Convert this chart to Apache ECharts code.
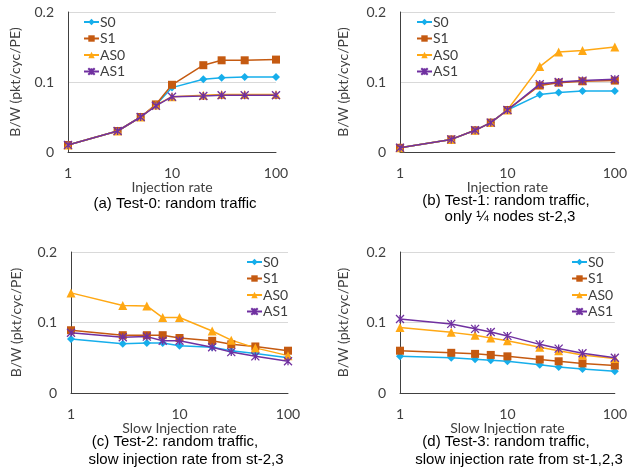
<!DOCTYPE html>
<html>
<head>
<meta charset="utf-8">
<script src="https://cdn.jsdelivr.net/npm/echarts@6/dist/echarts.min.js"></script>
<style>
  html, body { margin: 0; padding: 0; background: #fff; }
  #chart { width: 630px; height: 476px; }
</style>
</head>
<body>
<div id="chart"></div>
<script>
// injection rates (x axis, log scale)
var rates = [1, 3, 5, 7, 10, 20, 30, 50, 100];
var names = ["S0", "S1", "AS0", "AS1"];
var yTicks = [0, 0.1, 0.2];

// (a) Test-0
var a_S0  = [0.010, 0.030, 0.050, 0.067, 0.092, 0.104, 0.106, 0.107, 0.107];
var a_S1  = [0.010, 0.030, 0.050, 0.068, 0.096, 0.124, 0.131, 0.131, 0.132];
var a_AS0 = [0.010, 0.030, 0.050, 0.067, 0.079, 0.081, 0.082, 0.082, 0.082];
var a_AS1 = [0.010, 0.030, 0.050, 0.066, 0.079, 0.080, 0.081, 0.081, 0.081];
// (b) Test-1
var b_S0  = [0.006, 0.018, 0.031, 0.042, 0.060, 0.082, 0.085, 0.087, 0.087];
var b_S1  = [0.006, 0.018, 0.031, 0.042, 0.060, 0.095, 0.099, 0.101, 0.102];
var b_AS0 = [0.006, 0.018, 0.031, 0.042, 0.060, 0.122, 0.143, 0.145, 0.150];
var b_AS1 = [0.006, 0.018, 0.031, 0.042, 0.060, 0.097, 0.100, 0.102, 0.104];
// (c) Test-2
var c_S0  = [0.0765, 0.070, 0.071, 0.071, 0.067, 0.065, 0.060, 0.056, 0.050];
var c_S1  = [0.089, 0.082, 0.082, 0.082, 0.078, 0.074, 0.069, 0.066, 0.060];
var c_AS0 = [0.142, 0.124, 0.1235, 0.107, 0.107, 0.088, 0.075, 0.064, 0.053];
var c_AS1 = [0.0855, 0.079, 0.080, 0.074, 0.074, 0.065, 0.058, 0.052, 0.045];
// (d) Test-3
var d_S0  = [0.052, 0.050, 0.048, 0.0466, 0.045, 0.040, 0.037, 0.034, 0.031];
var d_S1  = [0.060, 0.057, 0.0555, 0.054, 0.052, 0.0475, 0.045, 0.042, 0.039];
var d_AS0 = [0.093, 0.086, 0.082, 0.078, 0.074, 0.065, 0.060, 0.054, 0.049];
var d_AS1 = [0.105, 0.098, 0.091, 0.0865, 0.081, 0.069, 0.063, 0.0565, 0.050];

// caption lines: [text, centre x, centre y]
var panels = [
    { data: [a_S0, a_S1, a_AS0, a_AS1], xName: "Injection rate",
      grid: { left: 68, top: 12, width: 208, height: 140 },
      legend: { left: 83, top: 15 }, yNameGap: 46,
      caption: [["(a) Test-0: random traffic", 175, 204]] },
    { data: [b_S0, b_S1, b_AS0, b_AS1], xName: "Injection rate",
      grid: { left: 400, top: 12, width: 217, height: 140 },
      legend: { left: 416, top: 15 }, yNameGap: 50,
      caption: [["(b) Test-1: random traffic,", 506, 201], ["only \u00bc nodes st-2,3", 510, 217]] },
    { data: [c_S0, c_S1, c_AS0, c_AS1], xName: "Slow Injection rate",
      grid: { left: 71, top: 252, width: 217, height: 141 },
      legend: { left: 246, top: 255 }, yNameGap: 48,
      caption: [["(c) Test-2: random traffic,", 175, 442], ["slow injection rate from st-2,3", 186, 460]] },
    { data: [d_S0, d_S1, d_AS0, d_AS1], xName: "Slow Injection rate",
      grid: { left: 400, top: 252, width: 217, height: 141 },
      legend: { left: 571, top: 255 }, yNameGap: 50,
      caption: [["(d) Test-3: random traffic,", 506, 442], ["slow injection rate from st-1,2,3", 519, 460]] }
];

var colors = ["#16AEEB", "#C55A11", "#FFA814", "#7030A0"];
var symbols = ["diamond", "rect", "triangle", "path://M0,0L10,10M10,0L0,10M5,0L5,10"];
var symbolSizes = [8, 8, 9, 8];
var labelFont = "Lato";
var capFont = "Liberation Sans";

var chart = echarts.init(document.getElementById("chart"));

var grids = [], xAxes = [], yAxes = [], series = [], legends = [], graphics = [];

panels.forEach(function (p, i) {
    grids.push(p.grid);
    xAxes.push({
        type: "log", logBase: 10, min: 1, max: 100, gridIndex: i,
        name: p.xName, nameLocation: "middle", nameGap: 23,
        nameTextStyle: { fontFamily: labelFont, fontSize: 14, color: "#404040" },
        axisLine: { lineStyle: { color: "#404040", width: 1 } },
        axisTick: { show: false },
        splitLine: { show: false },
        minorTick: { show: false },
        axisLabel: { fontFamily: labelFont, fontSize: 14, color: "#404040", margin: 14 }
    });
    yAxes.push({
        type: "value", min: 0, max: 0.2, interval: 0.1, gridIndex: i,
        name: "B/W (pkt/cyc/PE)", nameLocation: "middle", nameGap: p.yNameGap,
        nameTextStyle: { fontFamily: labelFont, fontSize: 14, color: "#404040" },
        axisLine: { show: true, lineStyle: { color: "#404040", width: 1 } },
        axisTick: { show: false },
        splitLine: { lineStyle: { color: "#D9D9D9", width: 1 } },
        axisLabel: {
            fontFamily: labelFont, fontSize: 14, color: "#404040", margin: 14,
            formatter: function (v) {
                var t = yTicks.filter(function (k) { return Math.abs(k - v) < 1e-9; });
                return t.length ? String(t[0]) : "";
            }
        }
    });
    p.data.forEach(function (vals, s) {
        series.push({
            name: names[s], type: "line", xAxisIndex: i, yAxisIndex: i,
            data: rates.map(function (r, k) { return [r, vals[k]]; }),
            symbol: symbols[s], symbolSize: symbolSizes[s],
            showAllSymbol: true,
            lineStyle: { color: colors[s], width: 1.5 },
            itemStyle: s === 3
                ? { color: colors[s], borderColor: colors[s], borderWidth: 1.3 }
                : { color: colors[s] },
            z: s === 3 ? 4 : 3
        });
    });
    legends.push({
        data: names, orient: "vertical", left: p.legend.left, top: p.legend.top,
        padding: 0, itemWidth: 15, itemHeight: 8, itemGap: 2.5, selectedMode: false,
        textStyle: { fontFamily: labelFont, fontSize: 14, color: "#404040", padding: [0, 0, 0, -4] }
    });
    p.caption.forEach(function (c) {
        graphics.push({
            type: "text", x: c[1], y: c[2],
            style: {
                text: c[0], font: "15px '" + capFont + "'",
                fill: "#000", align: "center", verticalAlign: "middle"
            }
        });
    });
});

chart.setOption({
    animation: false,
    grid: grids,
    xAxis: xAxes,
    yAxis: yAxes,
    legend: legends,
    series: series,
    graphic: graphics
});
</script>
</body>
</html>
